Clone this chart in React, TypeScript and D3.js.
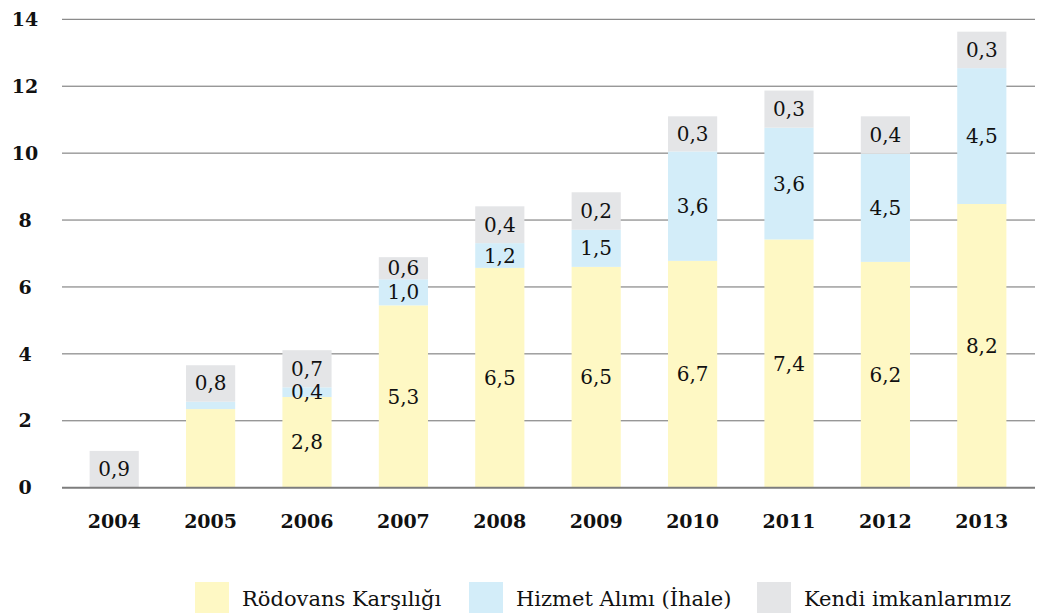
import * as d3 from "d3"

const years = ["2004", "2005", "2006", "2007", "2008", "2009", "2010", "2011", "2012", "2013"]

// segment heights as drawn
const rodovans = [0, 2.35, 2.71, 5.45, 6.57, 6.6, 6.78, 7.42, 6.75, 8.48]
const hizmet = [0, 0.22, 0.29, 0.78, 0.74, 1.11, 3.27, 3.34, 3.23, 4.06]
const kendi = [1.1, 1.09, 1.11, 0.66, 1.1, 1.12, 1.05, 1.11, 1.12, 1.09]

// printed labels on the segments
const rodovansLabels = ["", "", "2,8", "5,3", "6,5", "6,5", "6,7", "7,4", "6,2", "8,2"]
const hizmetLabels = ["", "", "0,4", "1,0", "1,2", "1,5", "3,6", "3,6", "4,5", "4,5"]
const kendiLabels = ["0,9", "0,8", "0,7", "0,6", "0,4", "0,2", "0,3", "0,3", "0,4", "0,3"]

const yTicks = [0, 2, 4, 6, 8, 10, 12, 14]
const seriesNames = ["Rödovans Karşılığı", "Hizmet Alımı (İhale)", "Kendi imkanlarımız"]
const colors = ["#fef8c4", "#d3edf9", "#e4e5e7"]

const W = 1043
const H = 613
const FONT = "'DejaVu Serif', serif"

export default function App() {
  const x = d3.scaleBand<string>().domain(years).range([66, 1030]).paddingInner(0.49).paddingOuter(0.245)
  const y = d3.scaleLinear().domain([0, 14]).range([487.7, 19.3])

  const rows = years.map((yr, i) => ({ year: yr, r: rodovans[i], h: hizmet[i], k: kendi[i] }))
  const stack = d3.stack<{ year: string; r: number; h: number; k: number }>().keys(["r", "h", "k"])(rows)
  const labels = [rodovansLabels, hizmetLabels, kendiLabels]

  const legendX = [195, 469, 757]

  return (
    <svg width={W} height={H} style={{ position: "absolute", left: 0, top: 0, fontFamily: FONT }}>
      {yTicks.map((t) => (
        <g key={t}>
          {t !== 0 && <line x1={62} x2={1035} y1={y(t)} y2={y(t)} stroke="#6e6e6e" strokeWidth={1} />}
          <text x={25} y={y(t)} dy="0.35em" textAnchor="middle" fontSize={19} fontWeight="bold" fill="#111">
            {t}
          </text>
        </g>
      ))}
      {stack.map((layer, si) => (
        <g key={si}>
          {layer.map((d, i) =>
            d[1] - d[0] > 0 ? (
              <rect
                key={i}
                x={x(years[i])}
                width={x.bandwidth()}
                y={y(d[1])}
                height={y(d[0]) - y(d[1])}
                fill={colors[si]}
              />
            ) : null,
          )}
        </g>
      ))}
      <line x1={62} x2={1035} y1={y(0)} y2={y(0)} stroke="#7d7d7d" strokeWidth={2} />
      {stack.map((layer, si) => (
        <g key={"l" + si}>
          {layer.map((d, i) =>
            labels[si][i] ? (
              <text
                key={i}
                x={(x(years[i]) ?? 0) + x.bandwidth() / 2}
                y={(y(d[0]) + y(d[1])) / 2}
                dy="0.35em"
                textAnchor="middle"
                fontSize={20}
                fill="#111"
              >
                {labels[si][i]}
              </text>
            ) : null,
          )}
        </g>
      ))}
      {years.map((yr) => (
        <text
          key={yr}
          x={(x(yr) ?? 0) + x.bandwidth() / 2}
          y={521}
          dy="0.35em"
          textAnchor="middle"
          fontSize={19}
          fontWeight="bold"
          fill="#111"
        >
          {yr}
        </text>
      ))}
      {seriesNames.map((name, i) => (
        <g key={name}>
          <rect x={legendX[i]} y={582} width={34} height={31} fill={colors[i]} />
          <text x={legendX[i] + 47} y={606} fontSize={21} fill="#111">
            {name}
          </text>
        </g>
      ))}
    </svg>
  )
}
